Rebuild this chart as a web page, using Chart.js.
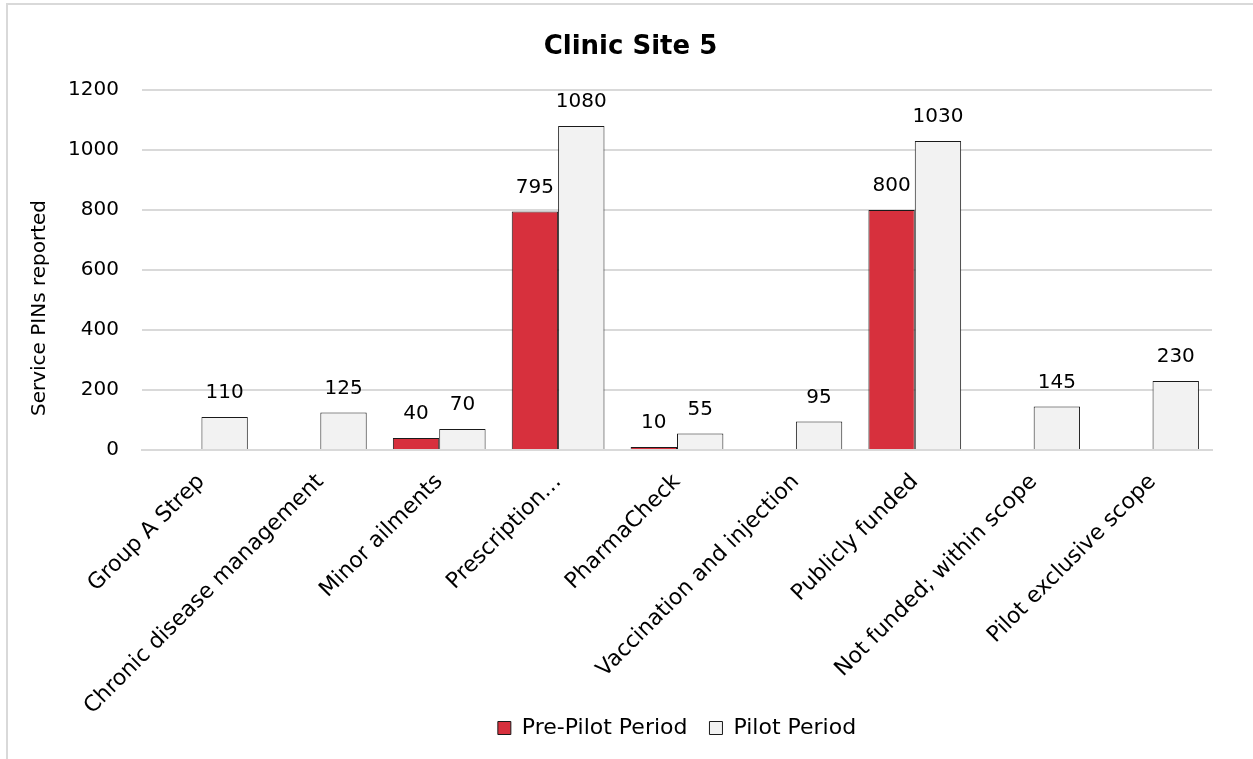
<!DOCTYPE html>
<html>
<head>
<meta charset="utf-8">
<script src="https://cdn.jsdelivr.net/npm/chart.js@4.4.1/dist/chart.umd.min.js"></script>
<style>
  html, body { margin: 0; padding: 0; background: #fff; overflow: hidden; }
  #frame {
    position: absolute; left: 6px; top: 3px; width: 1260px; height: 800px;
    border-left: 2px solid #d9d9d9; border-top: 2px solid #d9d9d9;
  }
  #wrap { position: absolute; left: 0; top: 0; width: 1253px; height: 759px; }
</style>
</head>
<body>
<div id="frame"></div>
<div id="wrap"><canvas id="c" width="1253" height="759"></canvas></div>
<script>
const categories = [
  'Group A Strep',
  'Chronic disease management',
  'Minor ailments',
  'Prescription\u2026',
  'PharmaCheck',
  'Vaccination and injection',
  'Publicly funded',
  'Not funded; within scope',
  'Pilot exclusive scope'
];
const prePilot = [null, null, 40, 795, 10, null, 800, null, null];
const pilot = [110, 125, 70, 1080, 55, 95, 1030, 145, 230];
const yTicks = [0, 200, 400, 600, 800, 1000, 1200];
const chartTitle = 'Clinic Site 5';
const yTitle = 'Service PINs reported';

const FONT = "'DejaVu Sans', sans-serif";

// Writes each bar's value just above its top edge
const valueLabels = {
  id: 'valueLabels',
  afterDatasetsDraw(chart) {
    const ctx = chart.ctx;
    ctx.save();
    ctx.font = '20px ' + FONT;
    ctx.fillStyle = '#000';
    ctx.textAlign = 'center';
    ctx.textBaseline = 'bottom';
    chart.data.datasets.forEach((ds, i) => {
      const meta = chart.getDatasetMeta(i);
      meta.data.forEach((bar, j) => {
        const v = ds.data[j];
        if (v === null || v === undefined) return;
        ctx.fillText(String(v), bar.x, bar.y - 14);
      });
    });
    ctx.restore();
  }
};

// Chart heading, the rotated value-axis caption, and the legend centred under the plot
const frameText = {
  id: 'frameText',
  afterLayout(chart) {
    const lg = chart.legend;
    if (lg) {
      const w = lg.width;
      const mid = (chart.chartArea.left + chart.chartArea.right) / 2;
      lg.left = mid - w / 2;
      lg.right = mid + w / 2;
    }
  },
  afterDraw(chart) {
    const ctx = chart.ctx;
    ctx.save();
    ctx.fillStyle = '#000';
    ctx.textAlign = 'center';
    ctx.textBaseline = 'middle';
    ctx.font = 'bold 26px ' + FONT;
    ctx.fillText(chartTitle, chart.width / 2 + 4, 47);
    ctx.translate(40, 308);
    ctx.rotate(-Math.PI / 2);
    ctx.font = '20px ' + FONT;
    ctx.fillText(yTitle, 0, 0);
    ctx.restore();
  }
};

new Chart(document.getElementById('c'), {
  type: 'bar',
  data: {
    labels: categories,
    datasets: [
      {
        label: 'Pre-Pilot Period',
        data: prePilot,
        backgroundColor: '#D7303D',
        borderColor: '#1a1a1a',
        borderWidth: 1
      },
      {
        label: 'Pilot Period',
        data: pilot,
        backgroundColor: '#F2F2F2',
        borderColor: '#1a1a1a',
        borderWidth: 1
      }
    ]
  },
  options: {
    responsive: false,
    animation: false,
    devicePixelRatio: 1,
    layout: { padding: { left: 18, right: 41, top: 90, bottom: 10 } },
    datasets: { bar: { barPercentage: 1.0, categoryPercentage: 0.78 } },
    plugins: {
      title: { display: false },
      legend: {
        position: 'bottom',
        labels: {
          color: '#000',
          font: { family: FONT, size: 22 },
          boxWidth: 13,
          boxHeight: 13,
          padding: 22
        }
      },
      tooltip: { enabled: false }
    },
    scales: {
      x: {
        grid: { display: false, drawTicks: false },
        border: { display: true, color: '#d9d9d9', width: 2 },
        ticks: {
          color: '#000',
          font: { family: FONT, size: 22 },
          minRotation: 45,
          maxRotation: 45,
          autoSkip: false,
          padding: 19
        },
        // the long slanted names run down beside the legend, so the axis
        // box is kept short and its labels are allowed past its lower edge
        afterFit(scale) {
          scale.height = 245;
          scale._computeLabelArea = () => undefined;
        }
      },
      y: {
        min: 0,
        max: 1200,
        afterBuildTicks(scale) { scale.ticks = yTicks.map(v => ({ value: v })); },
        afterFit(scale) { scale.width = 124; },
        grid: { color: '#d9d9d9', lineWidth: 2, drawTicks: false },
        border: { display: false },
        ticks: {
          color: '#000',
          font: { family: FONT, size: 20 },
          padding: 23,
          callback: (v) => String(v)
        }
      }
    }
  },
  plugins: [valueLabels, frameText]
});
</script>
</body>
</html>
